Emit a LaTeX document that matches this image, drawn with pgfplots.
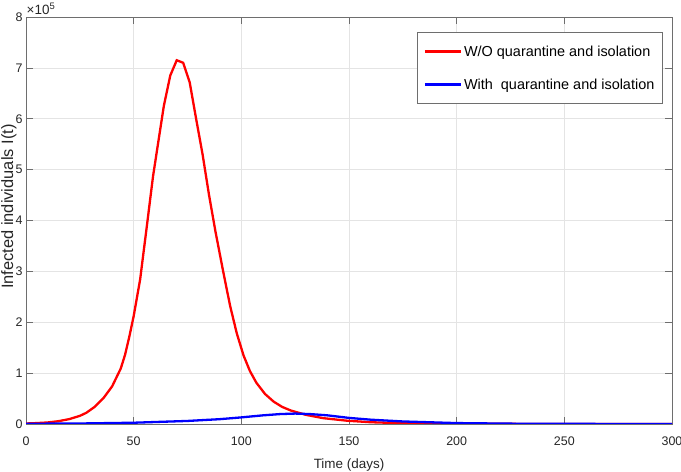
\documentclass[border=0pt]{standalone}
\usepackage{fontspec}
\setmainfont{Liberation Sans}
\usepackage{pgfplots}
\pgfplotsset{compat=1.18}
\definecolor{axgray}{RGB}{110,110,110}
\definecolor{gridgray}{RGB}{228,228,228}
\begin{document}
\begin{tikzpicture}
\begin{axis}[
  at={(0,0)}, anchor=south west,
  scale only axis, width=646bp, height=407bp,
  xmin=0, xmax=300, ymin=0, ymax=800000,
  clip mode=individual,
  xtick={0,50,...,300},
  ytick={0,100000,200000,300000,400000,500000,600000,700000,800000},
  yticklabels={0,1,2,3,4,5,6,7,8},
  scaled y ticks=false,
  grid=major,
  major grid style={gridgray, line width=0.6bp},
  axis line style={axgray, line width=0.7bp},
  tick style={axgray, line width=0.7bp},
  major tick length=7bp,
  tick align=inside,
  /pgf/number format/assume math mode=true,
  ticklabel style={font=\fontsize{12.5}{13}\selectfont, text=black!85},
  xticklabel style={yshift=-9bp},
  xlabel={Time (days)},
  ylabel={Infected individuals I(t)},
  xlabel style={font=\fontsize{13.5}{15}\selectfont, text=black!85, at={(axis description cs:0.5,0)}, anchor=base, yshift=-44bp},
  ylabel style={font=\fontsize{16.5}{18}\selectfont, text=black!85, at={(axis description cs:-0.0201,0.534)}, anchor=base, rotate=0},
  legend cell align=left,
  legend style={at={(axis description cs:0.9856,0.9624)}, anchor=north east,
    draw=axgray, line width=0.7bp, font=\fontsize{14.5}{16}\selectfont,
    inner xsep=6bp, inner ysep=11bp, row sep=17bp},
  legend image code/.code={\draw[#1] (0bp,0bp) -- (36bp,0bp);},
]
\addplot[red, line width=2.3bp] coordinates {
(0,1000) (5,1800) (10,3000) (15,5500) (20,9500) (25,16000) (28,22000)
(32,34000) (36,51000) (40,74000) (44,109000) (46,136000) (48,172000) (50,212000)
(53,284000) (56,385000) (59,487000) (62,570000) (64,625000) (67,685000)
(70,715000) (73,710000) (76,672000) (79,600000) (82,530000) (85,450000)
(88,378000) (91.7,297000) (94.8,232000) (97.9,178000) (101,135000)
(104,104000) (107,81000) (111,59000) (115,44000) (119,33500) (123,26500)
(130,18000) (138,11500) (149,6500) (160,3500) (175,1500) (200,400)
(250,30) (300,0)
};
\addlegendentry{ W/O quarantine and isolation}
\addplot[blue, line width=2.3bp] coordinates {
(0,500) (25,1000) (50,2500) (75,6000) (90,9500) (100,13000) (110,17000)
(118,19500) (125,20500) (132,19500) (140,17000) (150,12000) (160,8500)
(175,5000) (200,1800) (225,700) (250,300) (275,120) (300,50)
};
\addlegendentry{With\ \ quarantine and isolation}
\end{axis}
\node[anchor=base west, inner sep=0pt, font=\fontsize{13.5}{14}\selectfont, text=black!85] at (0.5bp,409bp) {×10\textsuperscript{5}};
\pgfresetboundingbox
\path[use as bounding box] (-26bp,-48bp) rectangle (655bp,424bp);
\end{tikzpicture}
\end{document}
